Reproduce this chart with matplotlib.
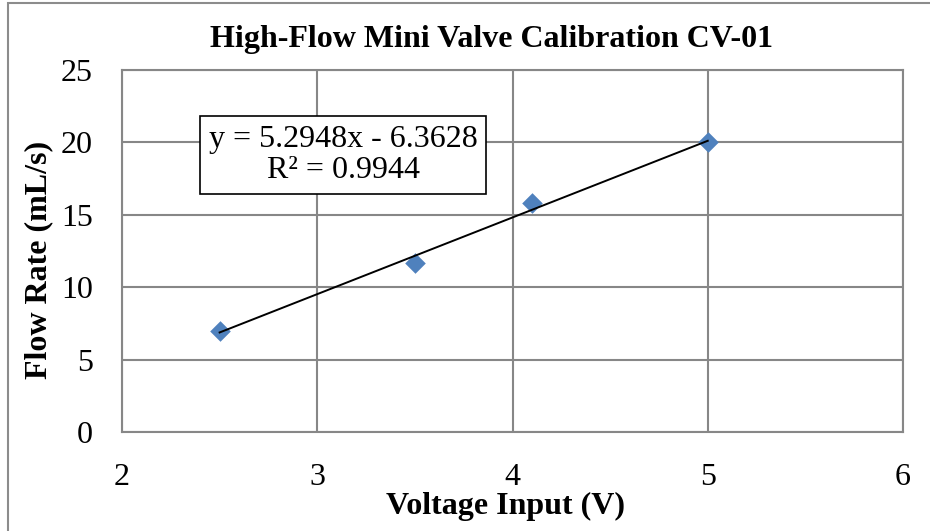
import matplotlib.pyplot as plt
from matplotlib.patches import Rectangle
import numpy as np

# calibration data
voltage = [2.5, 3.5, 4.1, 5.0]
flow = [7.0, 11.7, 15.8, 20.0]
slope = 5.2948
intercept = -6.3628
r2 = 0.9944

xticks = [2, 3, 4, 5, 6]
yticks = [0, 5, 10, 15, 20, 25]

plt.rcParams['font.family'] = ['Liberation Serif', 'DejaVu Serif']

W, H = 930, 531
fig = plt.figure(figsize=(W / 100, H / 100), dpi=100)
ax = fig.add_axes([122 / W, 1 - 432 / H, (903 - 122) / W, (432 - 70) / H])

grid_col = '#878787'
ax.set_xlim(2, 6)
ax.set_ylim(0, 25)
ax.set_xticks(xticks)
ax.set_yticks(yticks)
ax.grid(True, color=grid_col, linewidth=1.5)
ax.set_axisbelow(True)
for s in ax.spines.values():
    s.set_color(grid_col)
    s.set_linewidth(1.5)
ax.tick_params(axis='both', length=0, labelsize=23)
ax.tick_params(axis='y', pad=21)
ax.tick_params(axis='x', pad=22)

# trendline over the data range
xl = np.array([min(voltage), max(voltage)])
ax.plot(xl, slope * xl + intercept, color='black', linewidth=1.4, zorder=3)
ax.scatter(voltage, flow, marker='D', s=110, color='#4F81BD', zorder=2, linewidths=0)

ax.text(0.283, 0.765, 'y = %.4fx - %.4f\nR² = %.4f' % (slope, -intercept, r2),
        transform=ax.transAxes, fontsize=23, ha='center', va='center', linespacing=1.12,
        bbox=dict(boxstyle='square,pad=0.28', facecolor='white', edgecolor='black', linewidth=1.2))

fig.text(491 / W, 1 - 39 / H, 'High-Flow Mini Valve Calibration CV-01', ha='center', va='center',
         fontsize=23, fontweight='bold')
fig.text(505 / W, 1 - 506 / H, 'Voltage Input (V)', ha='center', va='center',
         fontsize=23, fontweight='bold')
fig.text(39 / W, 1 - 260 / H, 'Flow Rate (mL/s)', ha='center', va='center', rotation=90,
         fontsize=23, fontweight='bold')

# chart area border
fig.patches.append(Rectangle((8 / W, -0.1), 1.2, 1.1 - 3 / H, transform=fig.transFigure,
                             fill=False, edgecolor='#8c8c8c', linewidth=1.5))

fig.savefig('out.png', dpi=100)
